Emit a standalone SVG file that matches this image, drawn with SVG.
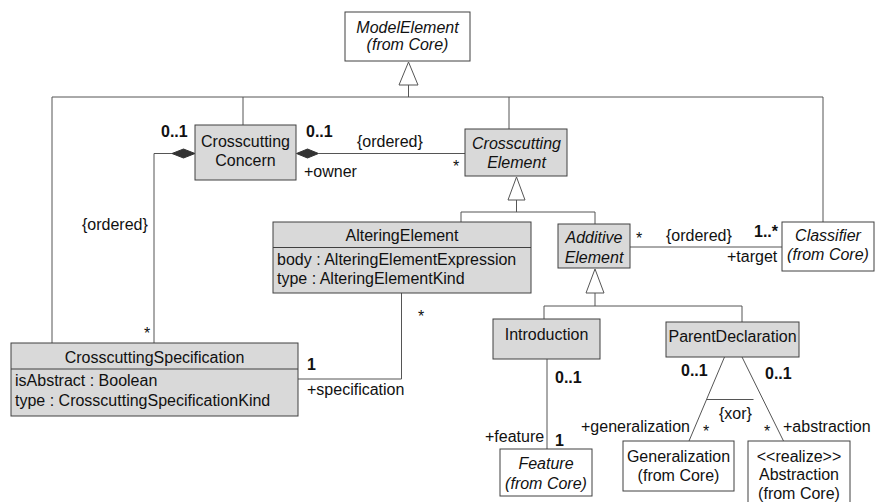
<svg xmlns="http://www.w3.org/2000/svg" width="875" height="502" viewBox="0 0 875 502">
<style>
text{font-family:"Liberation Sans",Arial,sans-serif;font-size:16px;fill:#111}
.c{text-anchor:middle}
.i{font-style:italic}
.b{font-weight:bold}
.box{stroke:#404040;stroke-width:1}
.g{fill:#d9d9d9}
.w{fill:#fff}
.ln{fill:none;stroke:#555;stroke-width:1}
.tri{fill:#fff;stroke:#555;stroke-width:1}
.dia{fill:#333;stroke:#333;stroke-width:1}
</style>
<rect width="875" height="502" fill="#fff"/>
<g id="connectors">
<polygon class="tri" points="408.5,62 399,85 418,85"/>
<polyline class="ln" points="408.5,85 408.5,97"/>
<polyline class="ln" points="52,343 52,97 823,97 823,222"/>
<line class="ln" x1="243" y1="97" x2="243" y2="125"/>
<line class="ln" x1="509" y1="97" x2="509" y2="129"/>
<polygon class="dia" points="172,153.5 183.5,149 195,153.5 183.5,158"/>
<polyline class="ln" points="172,153.5 154,153.5 154,343"/>
<polygon class="dia" points="296.5,153.5 307.5,149 318.5,153.5 307.5,158"/>
<line class="ln" x1="318.5" y1="153.5" x2="465" y2="153.5"/>
<polygon class="tri" points="516.5,177 508,200 525,200"/>
<polyline class="ln" points="516.5,200 516.5,212"/>
<polyline class="ln" points="461,222 461,212 595,212 595,224"/>
<polyline class="ln" points="401.5,293 401.5,379 298,379"/>
<line class="ln" x1="630" y1="247" x2="782" y2="247"/>
<polygon class="tri" points="595,269 586,293 604,293"/>
<polyline class="ln" points="595,293 595,306"/>
<polyline class="ln" points="544,319 544,306 742,306 742,322"/>
<line class="ln" x1="547" y1="359" x2="547" y2="449"/>
<line class="ln" x1="724.5" y1="357" x2="689" y2="441"/>
<line class="ln" x1="742" y1="357" x2="783.5" y2="441"/>
<line class="ln" x1="707" y1="399.5" x2="753.5" y2="399.5"/>
<text x="161" y="137" class="b">0..1</text>
<text x="306" y="137" class="b">0..1</text>
<text x="357" y="147">{ordered}</text>
<text x="304" y="177">+owner</text>
<text x="453" y="172">*</text>
<text x="82" y="230">{ordered}</text>
<text x="144" y="339">*</text>
<text x="418" y="322">*</text>
<text x="307" y="370" class="b">1</text>
<text x="307" y="395">+specification</text>
<text x="636" y="244">*</text>
<text x="666" y="241">{ordered}</text>
<text x="754" y="237" class="b">1..*</text>
<text x="727" y="262">+target</text>
<text x="555" y="383" class="b">0..1</text>
<text x="485" y="442">+feature</text>
<text x="555" y="446" class="b">1</text>
<text x="681" y="376" class="b">0..1</text>
<text x="765" y="379" class="b">0..1</text>
<text x="719" y="419">{xor}</text>
<text x="581" y="432">+generalization</text>
<text x="703" y="437">*</text>
<text x="764" y="437">*</text>
<text x="783" y="432">+abstraction</text>
</g>
<g id="ModelElement">
<rect class="box w" x="345" y="12" width="125" height="49"/>
<text x="407.5" y="33" class="c i">ModelElement</text>
<text x="407.5" y="50" class="c i">(from Core)</text>
</g>
<g id="CrosscuttingConcern">
<rect class="box g" x="195" y="125" width="101" height="55"/>
<text x="245.5" y="146.5" class="c">Crosscutting</text>
<text x="245.5" y="165.5" class="c">Concern</text>
</g>
<g id="CrosscuttingElement">
<rect class="box g" x="465" y="129" width="102" height="47"/>
<text x="516.5" y="149" class="c i">Crosscutting</text>
<text x="516.5" y="167.5" class="c i">Element</text>
</g>
<g id="AlteringElement">
<rect class="box g" x="273" y="222" width="258" height="71"/>
<line class="box" x1="273" y1="247.5" x2="531" y2="247.5"/>
<text x="402" y="241" class="c">AlteringElement</text>
<text x="277" y="265">body : AlteringElementExpression</text>
<text x="277" y="283.5">type : AlteringElementKind</text>
</g>
<g id="AdditiveElement">
<rect class="box g" x="558" y="224" width="72" height="44"/>
<text x="594" y="242.5" class="c i">Additive</text>
<text x="594" y="262.5" class="c i">Element</text>
</g>
<g id="Classifier">
<rect class="box w" x="782" y="222" width="92" height="49"/>
<text x="828" y="241" class="c i">Classifier</text>
<text x="828" y="259.5" class="c i">(from Core)</text>
</g>
<g id="CrosscuttingSpecification">
<rect class="box g" x="11" y="343" width="287" height="73"/>
<line class="box" x1="11" y1="369" x2="298" y2="369"/>
<text x="154.5" y="362.5" class="c">CrosscuttingSpecification</text>
<text x="15" y="385.5">isAbstract : Boolean</text>
<text x="15" y="405.5">type : CrosscuttingSpecificationKind</text>
</g>
<g id="Introduction">
<rect class="box g" x="493" y="319" width="107" height="40"/>
<text x="546.5" y="339.5" class="c">Introduction</text>
</g>
<g id="ParentDeclaration">
<rect class="box g" x="666" y="322" width="133" height="35"/>
<text x="732.5" y="342" class="c">ParentDeclaration</text>
</g>
<g id="Feature">
<rect class="box w" x="500" y="449" width="92" height="47"/>
<text x="546" y="469" class="c i">Feature</text>
<text x="546" y="489" class="c i">(from Core)</text>
</g>
<g id="Generalization">
<rect class="box w" x="623" y="441" width="111" height="50"/>
<text x="678.5" y="462" class="c">Generalization</text>
<text x="678.5" y="481" class="c">(from Core)</text>
</g>
<g id="Abstraction">
<rect class="box w" x="748" y="441" width="102" height="66"/>
<text x="799" y="462" class="c">&lt;&lt;realize&gt;&gt;</text>
<text x="799" y="480" class="c">Abstraction</text>
<text x="799" y="499" class="c">(from Core)</text>
</g>
</svg>
